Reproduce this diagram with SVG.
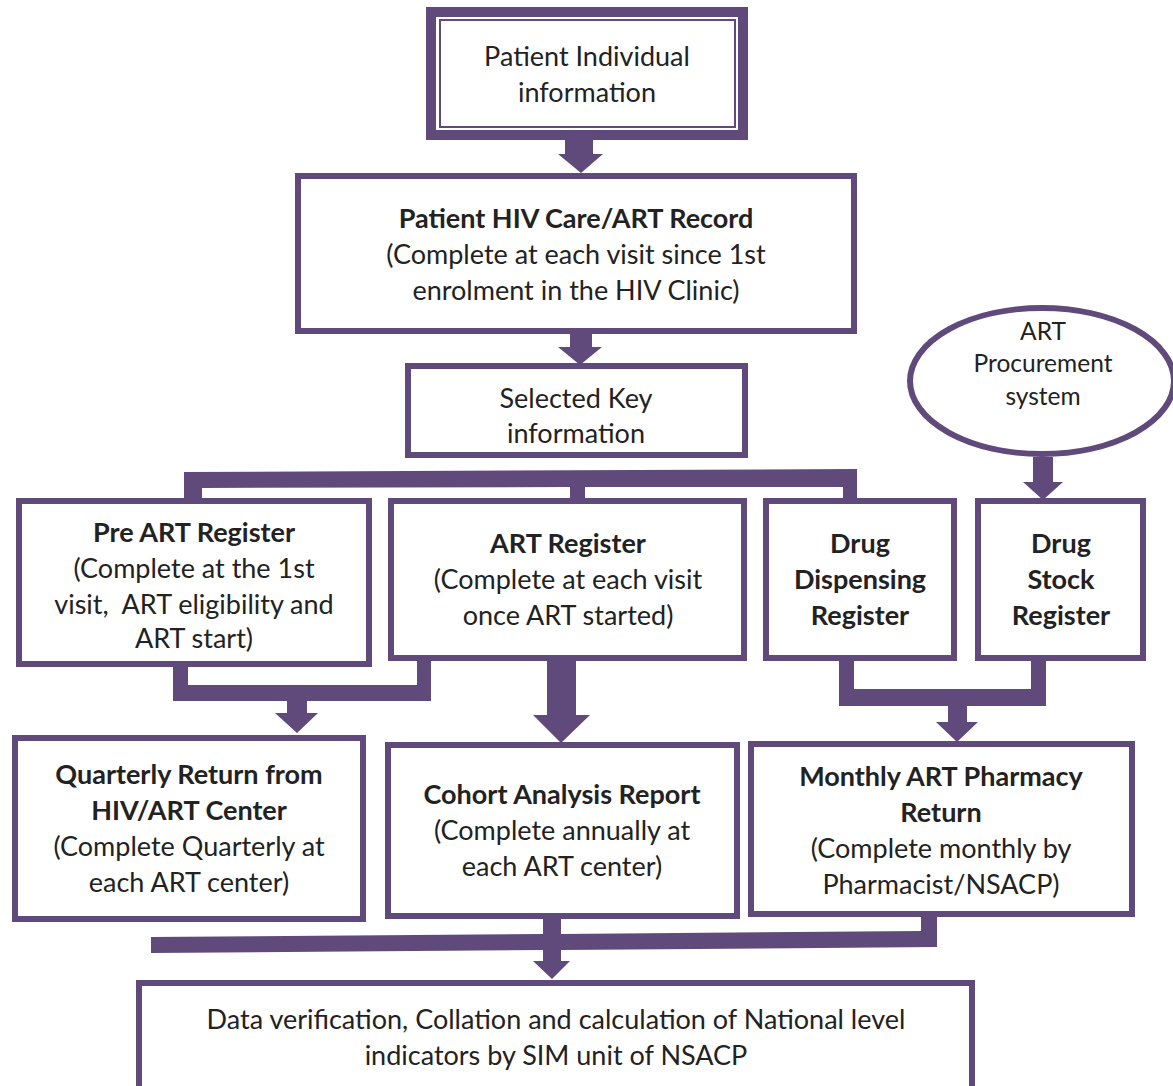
<svg xmlns="http://www.w3.org/2000/svg" width="1173" height="1086" viewBox="0 0 1173 1086">
<style>
.box{fill:#ffffff;stroke:#604a7b;stroke-width:6}
.con{fill:#604a7b;stroke:none}
text{font-family:"Lato","Liberation Sans",sans-serif;font-size:27px;fill:#222222;text-anchor:middle}
.b{font-weight:bold}
.s{font-size:24.5px}
</style>
<rect width="1173" height="1086" fill="#ffffff"/>
<g id="connectors">
<polygon class="con" points="565,140 593,140 593,154 603,154 581,173 558,154 565,154"/>
<polygon class="con" points="570,334 592,334 592,347 602,347 580,365 558,347 570,347"/>
<polygon class="con" points="184,472 857,469 857,498 843,498 843,487 585,487 585,498 570,498 570,487 202,488 202,498 184,498"/>
<polygon class="con" points="1033,457 1053,457 1053,482 1063,482 1043,500 1023,482 1033,482"/>
<polygon class="con" points="173,664 188,664 188,685 417,685 417,659 431,659 431,701 307,701 307,713 318,713 297,733 275,713 287,713 287,701 173,701"/>
<polygon class="con" points="547,661 576,661 576,715 590,715 561,743 533,715 547,715"/>
<polygon class="con" points="839,661 854,661 854,689 1031,689 1031,661 1046,661 1046,706 967,706 967,722 978,722 957,742 936,722 948,722 948,706 839,706"/>
<polygon class="con" points="151,937 543,934 543,919 561,919 561,934 921,931 921,917 937,917 937,947 561,950 561,961 570,961 552,979 533,961 543,961 543,950 151,953"/>
</g>
<g id="patient-individual">
<rect x="431" y="12" width="312" height="123" fill="#ffffff" stroke="#604a7b" stroke-width="10"/>
<rect x="440" y="20" width="295" height="107" fill="none" stroke="#604a7b" stroke-width="2"/>
<text x="587" y="66">Patient Individual</text>
<text x="587" y="102">information</text>
</g>
<g id="hiv-care-record">
<rect class="box" x="298" y="176" width="556" height="155"/>
<text class="b" x="576" y="228">Patient HIV Care/ART Record</text>
<text x="576" y="264">(Complete at each visit since 1st</text>
<text x="576" y="300">enrolment in the HIV Clinic)</text>
</g>
<g id="selected-key">
<rect class="box" x="408" y="366" width="337" height="89"/>
<text x="576" y="408">Selected Key</text>
<text x="576" y="443">information</text>
</g>
<g id="art-procurement">
<ellipse cx="1042" cy="381" rx="132" ry="73" fill="#ffffff" stroke="#604a7b" stroke-width="6"/>
<text class="s" x="1043" y="340">ART</text>
<text class="s" x="1043" y="372">Procurement</text>
<text class="s" x="1043" y="405">system</text>
</g>
<g id="pre-art-register">
<rect class="box" x="19" y="501" width="350" height="163"/>
<text class="b" x="194" y="542">Pre ART Register</text>
<text x="194" y="578">(Complete at the 1st</text>
<text x="194" y="614" style="white-space:pre">visit,  ART eligibility and</text>
<text x="194" y="648">ART start)</text>
</g>
<g id="art-register">
<rect class="box" x="391" y="501" width="353" height="157"/>
<text class="b" x="568" y="553">ART Register</text>
<text x="568" y="589">(Complete at each visit</text>
<text x="568" y="625">once ART started)</text>
</g>
<g id="drug-dispensing">
<rect class="box" x="766" y="501" width="188" height="157"/>
<text class="b" x="860" y="553">Drug</text>
<text class="b" x="860" y="589">Dispensing</text>
<text class="b" x="860" y="625">Register</text>
</g>
<g id="drug-stock">
<rect class="box" x="978" y="501" width="165" height="157"/>
<text class="b" x="1061" y="553">Drug</text>
<text class="b" x="1061" y="589">Stock</text>
<text class="b" x="1061" y="625">Register</text>
</g>
<g id="quarterly-return">
<rect class="box" x="15" y="738" width="348" height="181"/>
<text class="b" x="189" y="784">Quarterly Return from</text>
<text class="b" x="189" y="820">HIV/ART Center</text>
<text x="189" y="856">(Complete Quarterly at</text>
<text x="189" y="892">each ART center)</text>
</g>
<g id="cohort-analysis">
<rect class="box" x="388" y="745" width="349" height="171"/>
<text class="b" x="562" y="804">Cohort Analysis Report</text>
<text x="562" y="840">(Complete annually at</text>
<text x="562" y="876">each ART center)</text>
</g>
<g id="monthly-pharmacy">
<rect class="box" x="751" y="744" width="381" height="170"/>
<text class="b" x="941" y="786">Monthly ART Pharmacy</text>
<text class="b" x="941" y="822">Return</text>
<text x="941" y="858">(Complete monthly by</text>
<text x="941" y="894">Pharmacist/NSACP)</text>
</g>
<g id="national-indicators">
<rect class="box" x="139" y="983" width="833" height="110"/>
<text x="556" y="1029">Data verification, Collation and calculation of National level</text>
<text x="556" y="1065">indicators by SIM unit of NSACP</text>
</g>
</svg>
